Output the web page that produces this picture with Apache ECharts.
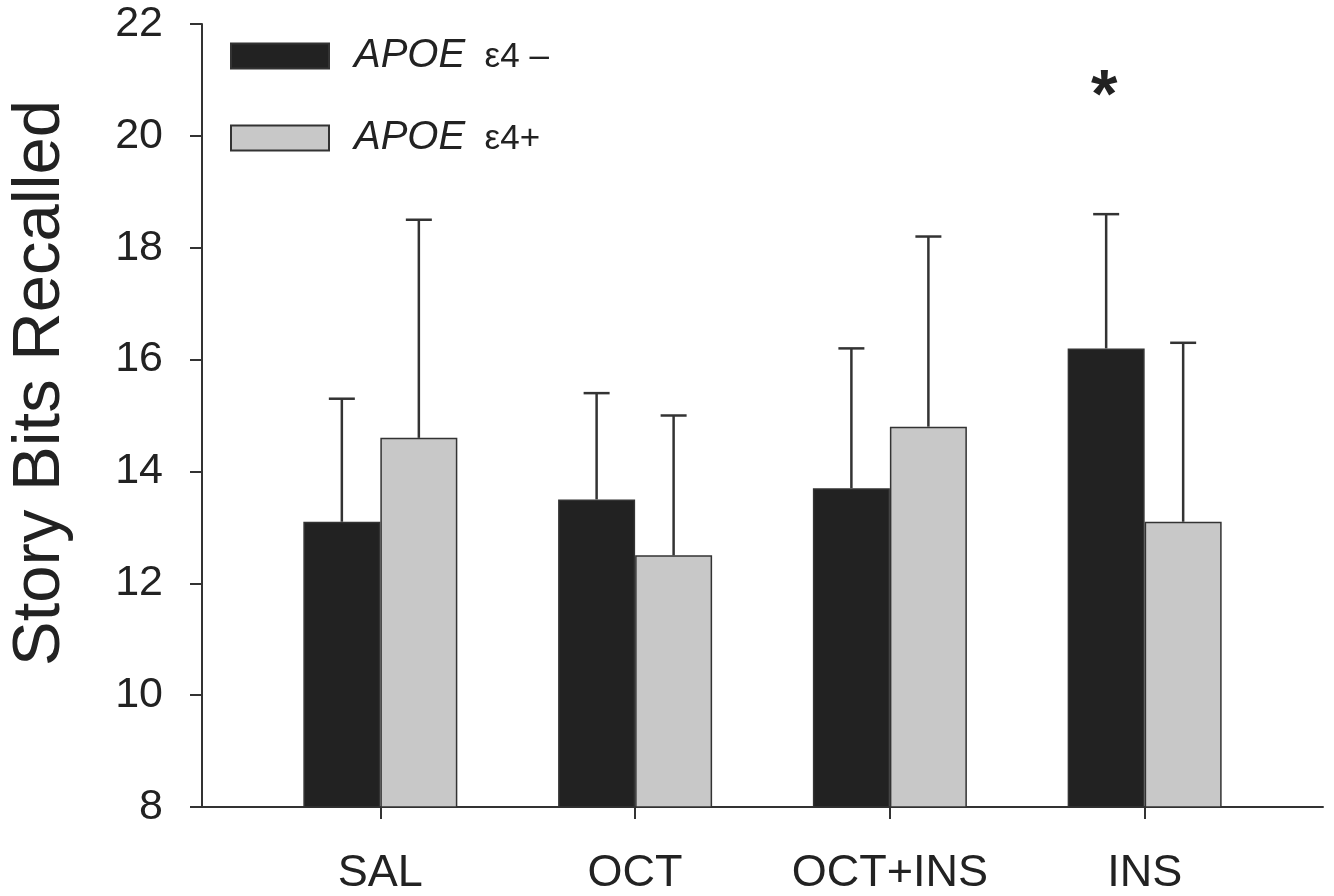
<!DOCTYPE html>
<html>
<head>
<meta charset="utf-8">
<script src="https://cdn.jsdelivr.net/npm/echarts@6/dist/echarts.min.js"></script>
<style>
html,body{margin:0;padding:0;background:#fff;}
#chart{width:1334px;height:896px;}
</style>
</head>
<body>
<div id="chart"></div>
<script>
// ---- data ----
const categories = ['SAL', 'OCT', 'OCT+INS', 'INS'];
const categoryPos = [1, 2, 3, 4];
const seriesNames = ['APOE ε4 –', 'APOE ε4+'];
const negMeans = [13.1, 13.5, 13.7, 16.2];
const negSD    = [2.2, 1.9, 2.5, 2.4];
const posMeans = [14.6, 12.5, 14.8, 13.1];
const posSD    = [3.9, 2.5, 3.4, 3.2];
const yTicks = [8, 10, 12, 14, 16, 18, 20, 22];
const sigMarks = [{ cat: 4, value: 20.7, text: '*' }];

// ---- styles ----
const FONT = 'Liberation Sans';
const BAR_W = 77;
const half = BAR_W / 2;

const barData = (means) => means.map((m, i) => [categoryPos[i], m]);
const errData = (means, sd) => means.map((m, i) => [categoryPos[i], m, +(m + sd[i]).toFixed(2)]);

function errRender(shift) {
  return function (params, api) {
    const x = api.value(0);
    const p0 = api.coord([x, api.value(1)]);
    const p1 = api.coord([x, api.value(2)]);
    const cx = p0[0] + shift;
    const st = { stroke: '#333', lineWidth: 2.5 };
    return {
      type: 'group',
      children: [
        { type: 'line', shape: { x1: cx, y1: p0[1], x2: cx, y2: p1[1] }, style: st },
        { type: 'line', shape: { x1: cx - 13, y1: p1[1], x2: cx + 13, y2: p1[1] }, style: st }
      ]
    };
  };
}

const chart = echarts.init(document.getElementById('chart'), null, { renderer: 'canvas' });
chart.setOption({
  backgroundColor: '#fff',
  animation: false,
  textStyle: { fontFamily: FONT },
  grid: { left: 202, top: 24, width: 1121, height: 783, containLabel: false, outerBoundsMode: 'none' },
  legend: {
    orient: 'vertical',
    left: 230,
    top: 36,
    padding: 0,
    itemWidth: 98,
    itemHeight: 25,
    itemGap: 42,
    icon: 'rect',
    data: seriesNames,
    formatter: (name) => '{i|APOE}{n|  ' + name.slice(5) + '}',
    textStyle: {
      padding: [0, 0, 0, 20],
      rich: {
        i: { fontFamily: FONT, fontStyle: 'italic', fontSize: 40, color: '#222', lineHeight: 40 },
        n: { fontFamily: FONT, fontSize: 35, color: '#222', lineHeight: 40, padding: [3, 0, 0, 0] }
      }
    }
  },
  xAxis: {
    type: 'value',
    min: 0.3,
    max: 4.7,
    splitLine: { show: false },
    axisLine: { show: true, lineStyle: { color: '#333', width: 2 } },
    axisTick: { show: true, length: 12, lineStyle: { color: '#333', width: 2 }, customValues: categoryPos },
    axisLabel: {
      customValues: categoryPos,
      formatter: (v) => categories[Math.round(v) - 1],
      fontSize: 45, color: '#222', margin: 44, fontFamily: FONT
    }
  },
  yAxis: {
    type: 'value',
    min: 8,
    max: 22,
    interval: 2,
    splitLine: { show: false },
    axisLine: { show: true, lineStyle: { color: '#333', width: 2 } },
    axisTick: { show: true, length: 12, lineStyle: { color: '#333', width: 2 } },
    axisLabel: { fontSize: 43, color: '#222', margin: 39, fontFamily: FONT,
      formatter: (v) => yTicks.includes(v) ? String(v) : '' },
    name: 'Story Bits Recalled',
    nameLocation: 'middle',
    nameRotate: 90,
    nameGap: 128,
    nameTextStyle: { fontSize: 67, color: '#222', fontFamily: FONT, padding: [0, 0, 0, 65] }
  },
  series: [
    {
      name: seriesNames[0], type: 'bar', data: barData(negMeans),
      barWidth: BAR_W, barGap: '0%',
      itemStyle: { color: '#222', borderColor: '#333', borderWidth: 1.5 },
      markPoint: {
        symbol: 'rect', symbolSize: 0,
        data: sigMarks.map(s => ({ coord: [s.cat, s.value], value: s.text })),
        label: { show: true, formatter: (p) => p.value, fontSize: 68, fontWeight: 'bold',
          color: '#222', offset: [-2, 2], fontFamily: FONT }
      }
    },
    {
      name: seriesNames[1], type: 'bar', data: barData(posMeans),
      barWidth: BAR_W, barGap: '0%',
      itemStyle: { color: '#c8c8c8', borderColor: '#333', borderWidth: 1.5 }
    },
    {
      type: 'custom', name: 'errNeg', data: errData(negMeans, negSD),
      encode: { x: 0, y: [1, 2] }, renderItem: errRender(-half), z: 3
    },
    {
      type: 'custom', name: 'errPos', data: errData(posMeans, posSD),
      encode: { x: 0, y: [1, 2] }, renderItem: errRender(half), z: 3
    }
  ]
});
</script>
</body>
</html>
